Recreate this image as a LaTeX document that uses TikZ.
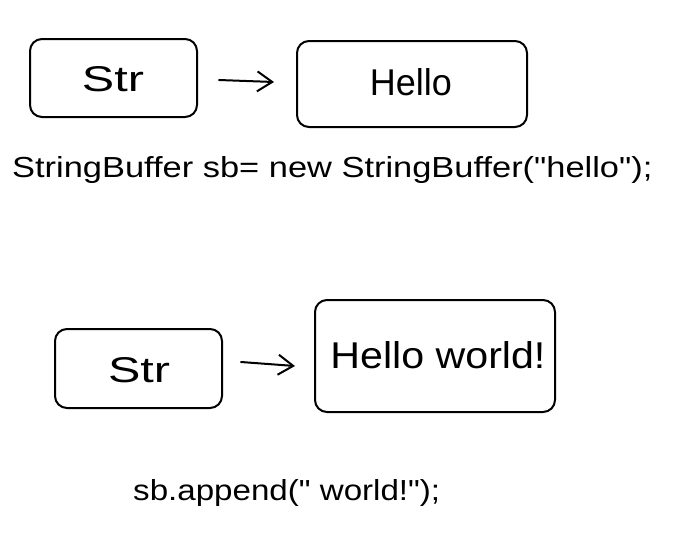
\documentclass[tikz,border=0pt]{standalone}
\usepackage{fontspec}
\setmainfont{Liberation Sans}[Ligatures=TeXOff]
\usetikzlibrary{arrows.meta}
\tikzset{
  sk/.style={draw=black, line width=2pt, rounded corners=12pt, line join=round},
  lbl/.style={inner sep=0pt, anchor=center},
  arr/.style={draw=black, line width=2pt, line cap=round, -{Straight Barb[length=15pt,width=20pt,line width=2pt]}}
}
\begin{document}
\begin{tikzpicture}[x=1pt,y=-1pt]
\useasboundingbox (0,0) rectangle (692,542);
% top row
\draw[sk] (30,39) rectangle (197,117);
\draw[sk] (297,41) rectangle (527,127);
\node[lbl, anchor=base] (s1) at (113,91) {\resizebox{62pt}{25pt}{Str}};
\node[lbl, anchor=base] (h1) at (411,95) {\resizebox{82pt}{27pt}{Hello}};
\coordinate (a1s) at (219,80);
\coordinate (a1e) at (274,82);
\draw[arr] (a1s) -- (a1e);
\node[lbl, anchor=base west] (c1) at (12,177) {\resizebox{640pt}{21pt}{StringBuffer sb= new StringBuffer("hello");}};
% bottom row
\draw[sk] (55,329) rectangle (222,408);
\draw[sk] (315,300) rectangle (555,412);
\node[lbl, anchor=base] (s2) at (139,382) {\resizebox{62pt}{25pt}{Str}};
\node[lbl, anchor=base] (h2) at (438,368) {\resizebox{215pt}{27pt}{Hello world!}};
\coordinate (a2s) at (241,362);
\coordinate (a2e) at (295,366);
\draw[arr] (a2s) -- (a2e);
\node[lbl, anchor=base west] (c2) at (133,500) {\resizebox{307pt}{21pt}{sb.append(" world!");}};
\end{tikzpicture}
\end{document}
